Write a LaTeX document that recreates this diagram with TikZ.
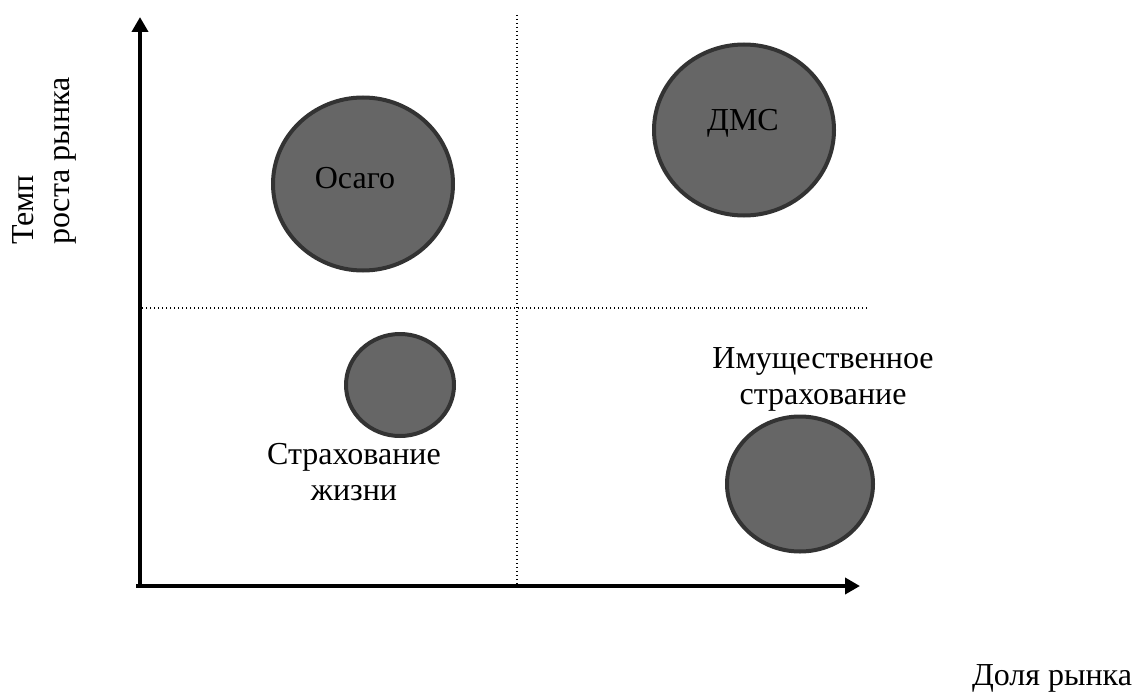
\documentclass[tikz,border=0pt]{standalone}
\usepackage{fontspec}
\setmainfont{Liberation Serif}
\usetikzlibrary{arrows.meta,shapes.geometric}

\definecolor{bubblefill}{HTML}{666666}
\definecolor{bubbleline}{HTML}{333333}

\begin{document}
\begin{tikzpicture}[x=1pt, y=-1pt,
    bubble/.style={ellipse, draw=bubbleline, fill=bubblefill, line width=4pt, inner sep=0pt},
    lbl/.style={font=\fontsize{32}{36}\selectfont, inner sep=0pt},
    grid/.style={line width=1.4pt, dash pattern=on 1.4pt off 2.6pt}]
        \useasboundingbox (0,0) rectangle (1135,693);

        \coordinate (O) at (140,588);
        \coordinate (Y) at (140,17);
        \coordinate (X0) at (136,586);
        \coordinate (X) at (860,586);
        \coordinate (VT) at (517,15);
        \coordinate (VB) at (517,584);
        \coordinate (HL) at (138,308);
        \coordinate (HR) at (868,308);

        \draw[grid] (VT) -- (VB);
        \draw[grid] (HL) -- (HR);

        \draw[line width=4pt, -{Triangle[length=15pt,width=16pt]}] (O) -- (Y);
        \draw[line width=4pt, -{Triangle[length=15pt,width=16pt]}] (X0) -- (X);

        \node[bubble, minimum width=180pt, minimum height=173pt] (osago) at (363,184) {};
        \node[bubble, minimum width=180pt, minimum height=171pt] (dms) at (744,130) {};
        \node[bubble, minimum width=108pt, minimum height=102pt] (life) at (400,385) {};
        \node[bubble, minimum width=146pt, minimum height=135pt] (property) at (800,484) {};

        \node[lbl] (osagotext) at (355,178) {Осаго};
        \node[lbl] (dmstext) at (743,123) {ДМС};
        \node[lbl, align=center] (lifetext) at (354,472) {Страхование\\жизни};
        \node[lbl, align=center] (propertytext) at (823,379) {Имущественное\\страхование};

        \node[lbl, anchor=base] (xlabel) at (1052,685) {Доля рынка};
        \node[lbl, rotate=90, align=left, anchor=north west] (ylabel) at (12,245) {Темп\\роста рынка};

    \end{tikzpicture}
\end{document}
